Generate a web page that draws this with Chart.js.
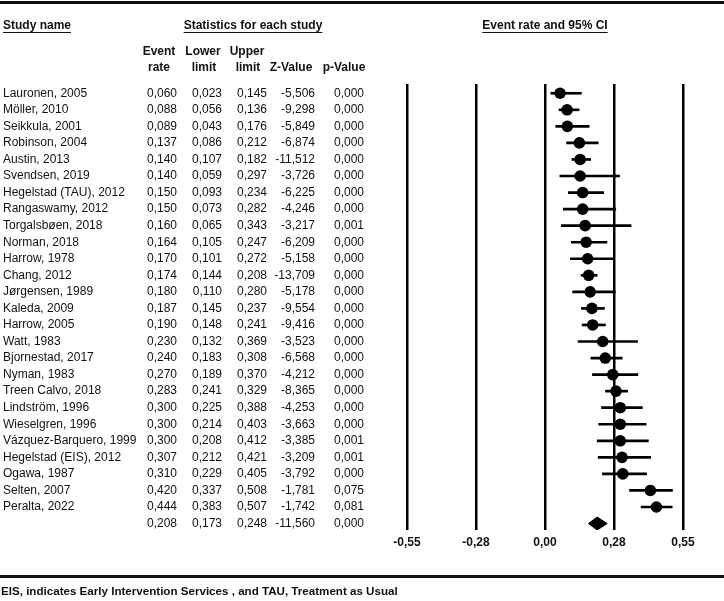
<!DOCTYPE html>
<html>
<head>
<meta charset="utf-8">
<script src="https://cdn.jsdelivr.net/npm/chart.js@4.4.1/dist/chart.umd.min.js"></script>
<style>
  body { margin: 0; background: #fff; }
</style>
</head>
<body>
<canvas id="myChart" width="724" height="601"></canvas>
<script>

var studies = ["Lauronen, 2005", "Möller, 2010", "Seikkula, 2001", "Robinson, 2004", "Austin, 2013",
    "Svendsen, 2019", "Hegelstad (TAU), 2012", "Rangaswamy, 2012", "Torgalsbøen, 2018", "Norman, 2018",
    "Harrow, 1978", "Chang, 2012", "Jørgensen, 1989", "Kaleda, 2009", "Harrow, 2005", "Watt, 1983",
    "Bjornestad, 2017", "Nyman, 1983", "Treen Calvo, 2018", "Lindström, 1996", "Wieselgren, 1996",
    "Vázquez-Barquero, 1999", "Hegelstad (EIS), 2012", "Ogawa, 1987", "Selten, 2007", "Peralta, 2022"];
var eventRate = [0.060, 0.088, 0.089, 0.137, 0.140, 0.140, 0.150, 0.150, 0.160, 0.164, 0.170, 0.174, 0.180,
    0.187, 0.190, 0.230, 0.240, 0.270, 0.283, 0.300, 0.300, 0.300, 0.307, 0.310, 0.420, 0.444];
var lowerLimit = [0.023, 0.056, 0.043, 0.086, 0.107, 0.059, 0.093, 0.073, 0.065, 0.105, 0.101, 0.144, 0.110,
    0.145, 0.148, 0.132, 0.183, 0.189, 0.241, 0.225, 0.214, 0.208, 0.212, 0.229, 0.337, 0.383];
var upperLimit = [0.145, 0.136, 0.176, 0.212, 0.182, 0.297, 0.234, 0.282, 0.343, 0.247, 0.272, 0.208, 0.280,
    0.237, 0.241, 0.369, 0.308, 0.370, 0.329, 0.388, 0.403, 0.412, 0.421, 0.405, 0.508, 0.507];
var zValue = [-5.506, -9.298, -5.849, -6.874, -11.512, -3.726, -6.225, -4.246, -3.217, -6.209, -5.158, -13.709,
    -5.178, -9.554, -9.416, -3.523, -6.568, -4.212, -8.365, -4.253, -3.663, -3.385, -3.209, -3.792, -1.781, -1.742];
var pValue = [0.000, 0.000, 0.000, 0.000, 0.000, 0.000, 0.000, 0.000, 0.001, 0.000, 0.000, 0.000, 0.000,
    0.000, 0.000, 0.000, 0.000, 0.000, 0.000, 0.000, 0.000, 0.001, 0.001, 0.000, 0.075, 0.081];

// pooled estimate
var pooledRate = 0.208, pooledLower = 0.173, pooledUpper = 0.248, pooledZ = -11.560, pooledP = 0.000;

var tickValues = [-0.55, -0.275, 0, 0.275, 0.55];
var tickLabels = ["-0,55", "-0,28", "0,00", "0,28", "0,55"];

var summaryRow = studies.length;
var fontFam = '"Liberation Sans", Arial, sans-serif';

function fmt(v) {
    return v.toFixed(3).replace('.', ',');
}

var pts = [], bars = [];
for (var i = 0; i < studies.length; i++) {
    pts.push({x: eventRate[i], y: i});
    bars.push({x: [lowerLimit[i], upperLimit[i]], y: i});
}
var diamond = [
    {x: pooledLower, y: summaryRow},
    {x: pooledRate, y: summaryRow - 0.39},
    {x: pooledUpper, y: summaryRow},
    {x: pooledRate, y: summaryRow + 0.39},
    {x: pooledLower, y: summaryRow}
];

var tablePlugin = {
    id: 'table',
    afterDraw: function(chart) {
        var c = chart.ctx, ys = chart.scales.y;
        c.save();
        c.fillStyle = '#111';

        // rules
        c.fillRect(0, 1, 724, 3);
        c.fillRect(0, 575, 724, 3);

        // headings
        c.font = 'bold 12px ' + fontFam;
        c.textBaseline = 'middle';
        c.textAlign = 'left';
        c.fillText('Study name', 3, 26);
        var w = c.measureText('Study name').width;
        c.fillRect(3, 32, w, 1);

        c.textAlign = 'center';
        w = c.measureText('Statistics for each study').width;
        c.fillText('Statistics for each study', 253, 26);
        c.fillRect(253 - w / 2, 32, w, 1);
        w = c.measureText('Event rate and 95% CI').width;
        c.fillText('Event rate and 95% CI', 545, 26);
        c.fillRect(545 - w / 2, 32, w, 1);

        c.fillText('Event', 159, 52);
        c.fillText('rate', 159, 68);
        c.fillText('Lower', 203, 52);
        c.fillText('limit', 204, 68);
        c.fillText('Upper', 247, 52);
        c.fillText('limit', 248, 68);
        c.fillText('Z-Value', 291, 68);
        c.fillText('p-Value', 344, 68);

        // footnote
        c.textAlign = 'left';
        c.font = 'bold 11.6px ' + fontFam;
        c.fillText('EIS, indicates Early Intervention Services , and TAU, Treatment as Usual', 1, 592);

        // rows
        c.font = '12px ' + fontFam;
        for (var i = 0; i <= studies.length; i++) {
            var y = ys.getPixelForValue(i);
            var isPool = i === studies.length;
            c.textAlign = 'left';
            if (!isPool) c.fillText(studies[i], 3, y);
            c.textAlign = 'right';
            c.fillText(fmt(isPool ? pooledRate : eventRate[i]), 177, y);
            c.fillText(fmt(isPool ? pooledLower : lowerLimit[i]), 222, y);
            c.fillText(fmt(isPool ? pooledUpper : upperLimit[i]), 267, y);
            c.fillText(fmt(isPool ? pooledZ : zValue[i]), 315, y);
            c.fillText(fmt(isPool ? pooledP : pValue[i]), 364, y);
        }
        c.restore();
    }
};

var ctx = document.getElementById('myChart').getContext('2d');
var chart = new Chart(ctx, {
    type: 'scatter',
    data: {
        datasets: [{
            type: 'scatter',
            data: pts,
            pointRadius: 5.8,
            pointBackgroundColor: '#000',
            pointBorderColor: '#000',
            pointBorderWidth: 0,
            order: 0
        }, {
            type: 'bar',
            indexAxis: 'y',
            data: bars,
            backgroundColor: '#000',
            barThickness: 2,
            order: 1
        }, {
            type: 'line',
            data: diamond,
            borderColor: '#000',
            borderWidth: 1,
            backgroundColor: '#000',
            fill: 'shape',
            pointRadius: 0,
            tension: 0,
            order: 2
        }]
    },
    options: {
        responsive: false,
        animation: false,
        layout: {
            padding: {left: 407, right: 41, top: 84, bottom: 0}
        },
        plugins: {
            legend: {display: false},
            tooltip: {enabled: false}
        },
        scales: {
            x: {
                type: 'linear',
                min: -0.55,
                max: 0.55,
                offset: false,
                afterBuildTicks: function(scale) {
                    scale.ticks = tickValues.map(function(v) { return {value: v}; });
                },
                afterFit: function(scale) {
                    scale.height = 71;
                },
                ticks: {
                    padding: 5,
                    color: '#111',
                    font: {family: fontFam, size: 12, weight: 'bold'},
                    callback: function(v, idx) { return tickLabels[idx]; }
                },
                grid: {
                    color: '#000',
                    lineWidth: 2.5,
                    drawTicks: false,
                    offset: false
                },
                border: {display: false}
            },
            y: {
                type: 'linear',
                display: false,
                reverse: true,
                offset: false,
                grid: {offset: false},
                min: -0.56,
                max: 26.39
            }
        }
    },
    plugins: [tablePlugin]
});
</script>
</body>
</html>
